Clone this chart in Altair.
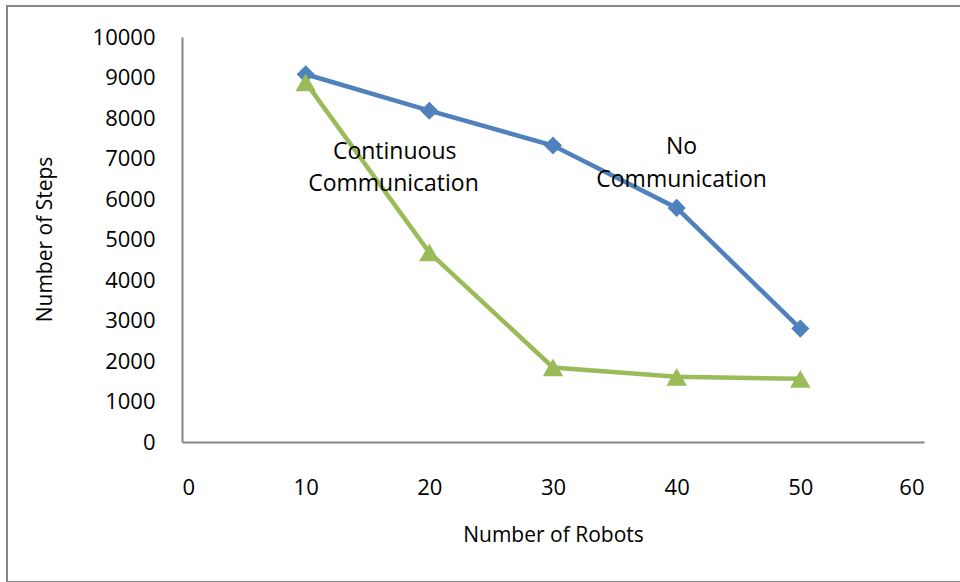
import altair as alt
import pandas as pd

# Number of robots on the x axis
robots = [10, 20, 30, 40, 50]

# Steps needed for each strategy
no_comm_steps = [9080, 8180, 7320, 5780, 2800]
continuous_steps = [8880, 4680, 1840, 1610, 1560]

series_names = ["No Communication", "Continuous Communication"]
series_colors = ["#4F81BD", "#9BBB59"]
series_shapes = ["diamond", "triangle-up"]
series_marker_sizes = [330, 420]

# Text labels placed beside the curves (data units)
note_text = ["Continuous", "Communication", "No", "Communication"]
note_x = [17.2, 17.1, 40.4, 40.4]
note_y = [7170, 6360, 7290, 6480]

FONT = "Open Sans"

rows = []
for name, vals in zip(series_names, [no_comm_steps, continuous_steps]):
    for r, v in zip(robots, vals):
        rows.append({"robots": r, "steps": v, "series": name})
df = pd.DataFrame(rows)

notes = pd.DataFrame({"text": note_text, "x": note_x, "y": note_y})

x_enc = alt.X(
    "robots:Q",
    scale=alt.Scale(domain=[0, 60], nice=False, zero=True),
    axis=alt.Axis(
        values=[0, 10, 20, 30, 40, 50, 60],
        format="d",
        title="Number of Robots",
        grid=False, ticks=False, tickSize=0,
        domainColor="#868686", domainWidth=2,
        labelFont=FONT, labelFontSize=22, labelColor="#000000",
        labelPadding=45, labelBaseline="middle",
        titleFont=FONT, titleFontSize=21, titleFontWeight="normal",
        titleColor="#000000", titleX=371, titleY=93, titleBaseline="middle",
    ),
)
y_enc = alt.Y(
    "steps:Q",
    scale=alt.Scale(domain=[0, 10000], nice=False),
    axis=alt.Axis(
        values=list(range(0, 10001, 1000)),
        format="d",
        title="Number of Steps",
        grid=False, ticks=False, tickSize=0,
        domainColor="#868686", domainWidth=2,
        labelFont=FONT, labelFontSize=22, labelColor="#000000",
        labelPadding=27, labelAlign="right", labelBaseline="middle",
        titleFont=FONT, titleFontSize=21, titleFontWeight="normal",
        titleColor="#000000", titleAngle=-90, titleX=-137, titleY=202,
        titleAlign="center", titleBaseline="middle",
    ),
)
color_enc = alt.Color(
    "series:N",
    scale=alt.Scale(domain=series_names, range=series_colors),
    legend=None,
)
shape_enc = alt.Shape(
    "series:N",
    scale=alt.Scale(domain=series_names, range=series_shapes),
    legend=None,
)
size_enc = alt.Size(
    "series:N",
    scale=alt.Scale(domain=series_names, range=series_marker_sizes),
    legend=None,
)

lines = alt.Chart(df).mark_line(strokeWidth=4.5).encode(
    x=x_enc, y=y_enc, color=color_enc,
    order=alt.Order("robots:Q"),
)
pts = alt.Chart(df).mark_point(filled=True, opacity=1).encode(
    x="robots:Q", y="steps:Q", color=color_enc, shape=shape_enc, size=size_enc,
)

layers = []
for name in series_names:
    sub = df[df.series == name]
    layers.append(lines.properties(data=sub))
    layers.append(pts.properties(data=sub))

labels = alt.Chart(notes).mark_text(
    font=FONT, fontSize=23, color="#000000", align="center", baseline="middle"
).encode(x="x:Q", y="y:Q", text="text:N")

# Outer frame around the whole figure
frame = alt.Chart(pd.DataFrame({"k": [0]})).mark_rect(
    fill=None, stroke="#868686", strokeWidth=2
).encode(
    x=alt.value(-175), x2=alt.value(800),
    y=alt.value(-31), y2=alt.value(545),
)

chart = alt.layer(frame, *layers, labels).properties(
    width=742, height=405,
    padding={"left": 182, "top": 37, "right": 36, "bottom": 140},
    autosize=alt.AutoSizeParams(type="none"),
    background="#ffffff",
).configure_view(stroke=None)

chart.save("out.html", embed_options={"renderer": "svg", "actions": False})
